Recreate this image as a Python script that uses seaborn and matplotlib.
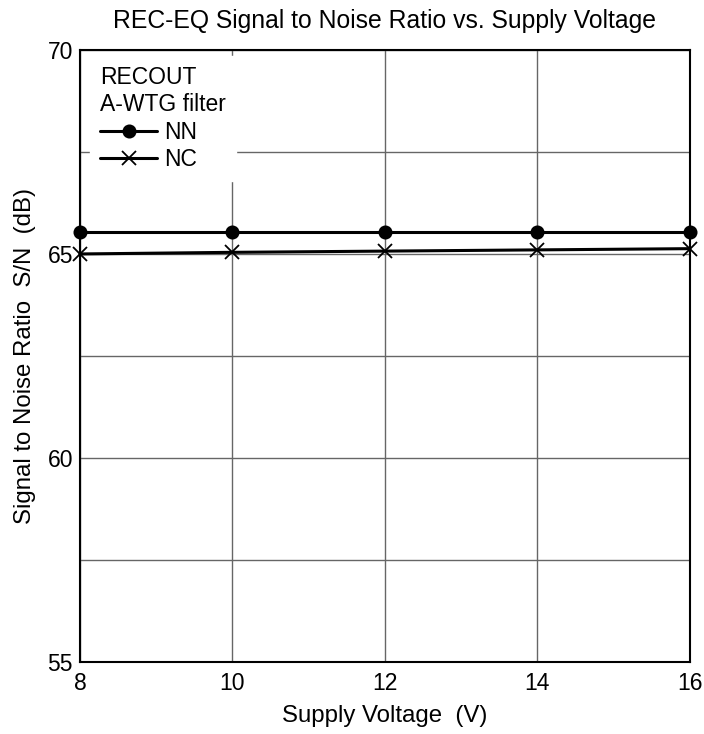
import pandas as pd
import matplotlib
matplotlib.use("Agg")
import matplotlib.pyplot as plt
import seaborn as sns

# Supply voltage (V)
voltage = [8, 10, 12, 14, 16]
# S/N (dB) per mode
nn_values = [65.55, 65.55, 65.55, 65.55, 65.55]
nc_values = [65.0, 65.04, 65.07, 65.1, 65.13]
series_names = ["NN", "NC"]
series_markers = ["o", "x"]

sns.set_style("white")
plt.rcParams["font.family"] = ["Liberation Sans", "DejaVu Sans"]
plt.rcParams["text.color"] = "black"
plt.rcParams["axes.labelcolor"] = "black"
plt.rcParams["xtick.color"] = "black"
plt.rcParams["ytick.color"] = "black"

fig = plt.figure(figsize=(7.04, 7.34), dpi=100)
ax = fig.add_axes([0.1136, 0.098, 0.866, 0.834])

# seaborn won't mix filled and line-art markers in one call, so one per series
for name, vals, mk in zip(series_names, [nn_values, nc_values], series_markers):
    sns.lineplot(x=voltage, y=vals, color="black", marker=mk, label=name,
                 markersize=8.8 if mk == "o" else 10, markeredgewidth=1.3,
                 markeredgecolor="black", markerfacecolor="black",
                 linewidth=2.2, ax=ax, clip_on=False, zorder=3)

ax.set_xlim(8, 16)
ax.set_ylim(55, 70)
ax.set_xticks([8, 10, 12, 14, 16])
ax.set_yticks([55, 60, 65, 70])
ax.set_yticks([57.5, 62.5, 67.5], minor=True)
ax.grid(True, which="both", color="#666666", linewidth=1)
ax.set_axisbelow(True)
for s in ax.spines.values():
    s.set_color("black")
    s.set_linewidth(1.5)
ax.tick_params(axis="both", which="both", length=0, labelsize=16.5)
ax.tick_params(axis="x", pad=7.5)
ax.tick_params(axis="y", pad=5)

ax.set_xlabel("Supply Voltage  (V)", fontsize=17.3, labelpad=7)
ax.set_ylabel("Signal to Noise Ratio  S/N  (dB)", fontsize=17.3, labelpad=8)
ax.set_title("REC-EQ Signal to Noise Ratio vs. Supply Voltage", fontsize=17.8, pad=16)

leg = ax.legend(title="RECOUT\nA-WTG filter", loc="upper left",
                frameon=True, fontsize=16.5, title_fontsize=16.5,
                handlelength=2.5, handletextpad=0.3, borderpad=0.45,
                labelspacing=0.2, fancybox=False, framealpha=1,
                borderaxespad=0, bbox_to_anchor=(0.016, 0.99))
leg._legend_box.align = "left"
leg.get_frame().set_edgecolor("white")
leg.get_frame().set_facecolor("white")

fig.savefig("out.png", dpi=100)
